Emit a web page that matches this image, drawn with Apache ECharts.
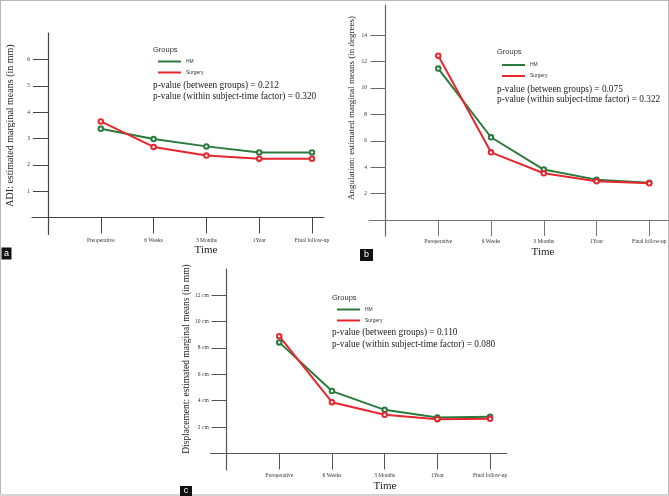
<!DOCTYPE html>
<html>
<head>
<meta charset="utf-8">
<script src="https://cdn.jsdelivr.net/npm/echarts@6/dist/echarts.min.js"></script>
<style>
html,body{margin:0;padding:0;background:#fff;}
#chart{width:669px;height:496px;}
</style>
</head>
<body>
<div id="chart"></div>
<script>
// ---- data ----
const categories = ['Preoperative', '6 Weeks', '3 Months', '1Year', 'Final follow-up'];
const adiHM = [3.37, 2.98, 2.70, 2.47, 2.47];
const adiSurgery = [3.65, 2.68, 2.35, 2.23, 2.23];
const angHM = [11.47, 6.27, 3.82, 3.06, 2.83];
const angSurgery = [12.45, 5.13, 3.54, 2.93, 2.78];
const dispHM = [8.42, 4.73, 3.31, 2.73, 2.78];
const dispSurgery = [8.89, 3.89, 2.93, 2.60, 2.63];
const adiTicks = [1, 2, 3, 4, 5, 6];
const angTicks = [2, 4, 6, 8, 10, 12, 14];
const dispTicks = [2, 4, 6, 8, 10, 12];
const dispTickLabels = ['2 cm', '4 cm', '6 cm', '8 cm', '10 cm', '12 cm'];
const groupNames = ['HM', 'Surgery'];
const pTextA = ['p-value (between groups) = 0.212', 'p-value (within subject-time factor) = 0.320'];
const pTextB = ['p-value (between groups) = 0.075', 'p-value (within subject-time factor) = 0.322'];
const pTextC = ['p-value (between groups) = 0.110', 'p-value (within subject-time factor) = 0.080'];

const GREEN = '#2a7a3d';
const RED = '#e8262e';
const SERIF = '"Liberation Serif", "Times New Roman", serif';
const SANS = '"Liberation Sans", Arial, sans-serif';
const catPos = categories.map((c, i) => i + 1);

function toPoints(arr) { return arr.map((v, i) => [catPos[i], v]); }

function xAxisFor(gi, min, max, color) {
  return {
    type: 'value', gridIndex: gi, min: min, max: max,
    axisLine: { show: true, onZero: true, lineStyle: { color: color, width: 1.2 } },
    axisTick: { show: true, length: 16, customValues: catPos, lineStyle: { color: color, width: 1 } },
    axisLabel: {
      customValues: catPos, margin: 3,
      formatter: v => categories[Math.round(v) - 1] || '',
      fontSize: 5.5, fontFamily: SERIF, color: '#333'
    },
    splitLine: { show: false }
  };
}
function yAxisFor(gi, min, max, color, ticks, labels) {
  return {
    type: 'value', gridIndex: gi, min: min, max: max,
    axisLine: { show: true, onZero: true, lineStyle: { color: color, width: 1.2 } },
    axisTick: { show: true, length: 15, customValues: ticks, lineStyle: { color: color, width: 1 } },
    axisLabel: {
      customValues: ticks, margin: 2,
      formatter: v => { const k = ticks.indexOf(Math.round(v)); return k >= 0 ? labels[k] : ''; },
      fontSize: 5.5, fontFamily: SERIF, color: '#333'
    },
    splitLine: { show: false }
  };
}
function lineSeries(name, data, gi, color) {
  return {
    name: name, type: 'line', xAxisIndex: gi, yAxisIndex: gi,
    data: toPoints(data), symbol: 'emptyCircle', symbolSize: 4.5,
    lineStyle: { color: color, width: 2 },
    itemStyle: { color: color, borderWidth: 1 },
    emphasis: { disabled: true }
  };
}
function legendFor(left, top) {
  return {
    left: left, top: top, orient: 'vertical', data: groupNames,
    icon: 'rect', itemWidth: 23, itemHeight: 2, itemGap: 6,
    textStyle: { fontSize: 5, fontFamily: SANS, color: '#333' },
    selectedMode: false
  };
}
function txt(x, y, text, font, size, opts) {
  opts = opts || {};
  return {
    type: 'text', x: x, y: y, rotation: opts.rotation || 0, silent: true,
    style: {
      text: text, fontFamily: font, fontSize: size, fill: opts.fill || '#222',
      align: opts.align || 'left', verticalAlign: 'middle'
    }
  };
}
function panelTag(x, y, w, h, letter) {
  return [
    { type: 'rect', shape: { x: x, y: y, width: w, height: h }, style: { fill: '#111' }, silent: true },
    txt(x + w / 2, y + h / 2, letter, SANS, 9, { fill: '#fff', align: 'center' })
  ];
}

const adiLabels = adiTicks.map(String);
const angLabels = angTicks.map(String);

const option = {
  animation: false,
  grid: [
    { left: 32, top: 33, width: 292, height: 201.5, outerBoundsMode: 'none', containLabel: false },
    { left: 369, top: 5, width: 299, height: 231, outerBoundsMode: 'none', containLabel: false },
    { left: 210.7, top: 269, width: 296, height: 201, outerBoundsMode: 'none', containLabel: false }
  ],
  xAxis: [
    xAxisFor(0, -0.303, 5.227, '#444'),
    xAxisFor(1, -0.313, 5.355, '#777'),
    xAxisFor(2, -0.30, 5.315, '#555')
  ],
  yAxis: [
    yAxisFor(0, -0.65, 7.01, '#444', adiTicks, adiLabels),
    yAxisFor(1, -1.21, 16.29, '#666', angTicks, angLabels),
    yAxisFor(2, -1.25, 13.98, '#555', dispTicks, dispTickLabels)
  ],
  legend: [legendFor(153, 54), legendFor(497, 57.5), legendFor(332, 302)],
  series: [
    lineSeries('HM', adiHM, 0, GREEN),
    lineSeries('Surgery', adiSurgery, 0, RED),
    lineSeries('HM', angHM, 1, GREEN),
    lineSeries('Surgery', angSurgery, 1, RED),
    lineSeries('HM', dispHM, 2, GREEN),
    lineSeries('Surgery', dispSurgery, 2, RED)
  ],
  graphic: [
    // frame
    { type: 'rect', shape: { x: 0, y: 0, width: 669, height: 1 }, style: { fill: '#b8b8b8' }, silent: true },
    { type: 'rect', shape: { x: 0, y: 0, width: 1, height: 496 }, style: { fill: '#b8b8b8' }, silent: true },
    { type: 'rect', shape: { x: 668, y: 0, width: 1, height: 496 }, style: { fill: '#b8b8b8' }, silent: true },
    { type: 'rect', shape: { x: 0, y: 494, width: 669, height: 2 }, style: { fill: '#d4d4d4' }, silent: true },
    // axis titles
    txt(10, 125.5, 'ADI: estimated marginal means (in mm)', SERIF, 10, { rotation: Math.PI / 2, align: 'center' }),
    txt(352, 108, 'Angulation: estimated marginal means (in degrees)', SERIF, 9, { rotation: Math.PI / 2, align: 'center' }),
    txt(186, 359, 'Displacement: estimated marginal means (in mm)', SERIF, 9.5, { rotation: Math.PI / 2, align: 'center' }),
    txt(206, 250.5, 'Time', SERIF, 11, { align: 'center' }),
    txt(543, 252, 'Time', SERIF, 11, { align: 'center' }),
    txt(385, 486.5, 'Time', SERIF, 11, { align: 'center' }),
    // legend titles
    txt(153, 50, 'Groups', SANS, 7.5, { fill: '#333' }),
    txt(497, 52, 'Groups', SANS, 7.5, { fill: '#333' }),
    txt(332, 297.7, 'Groups', SANS, 7.5, { fill: '#333' }),
    // p-values
    txt(153, 86, pTextA[0], SERIF, 9.3),
    txt(153, 96.5, pTextA[1], SERIF, 9.3),
    txt(497, 89.3, pTextB[0], SERIF, 9.3),
    txt(497, 100, pTextB[1], SERIF, 9.3),
    txt(332, 332.7, pTextC[0], SERIF, 9.3),
    txt(332, 344.3, pTextC[1], SERIF, 9.3)
  ].concat(panelTag(1.5, 247.5, 10, 12, 'a'))
   .concat(panelTag(360, 249, 13, 12, 'b'))
   .concat(panelTag(180, 486, 12, 10, 'c'))
};

const chart = echarts.init(document.getElementById('chart'), null, { renderer: 'canvas' });
chart.setOption(option);
</script>
</body>
</html>
